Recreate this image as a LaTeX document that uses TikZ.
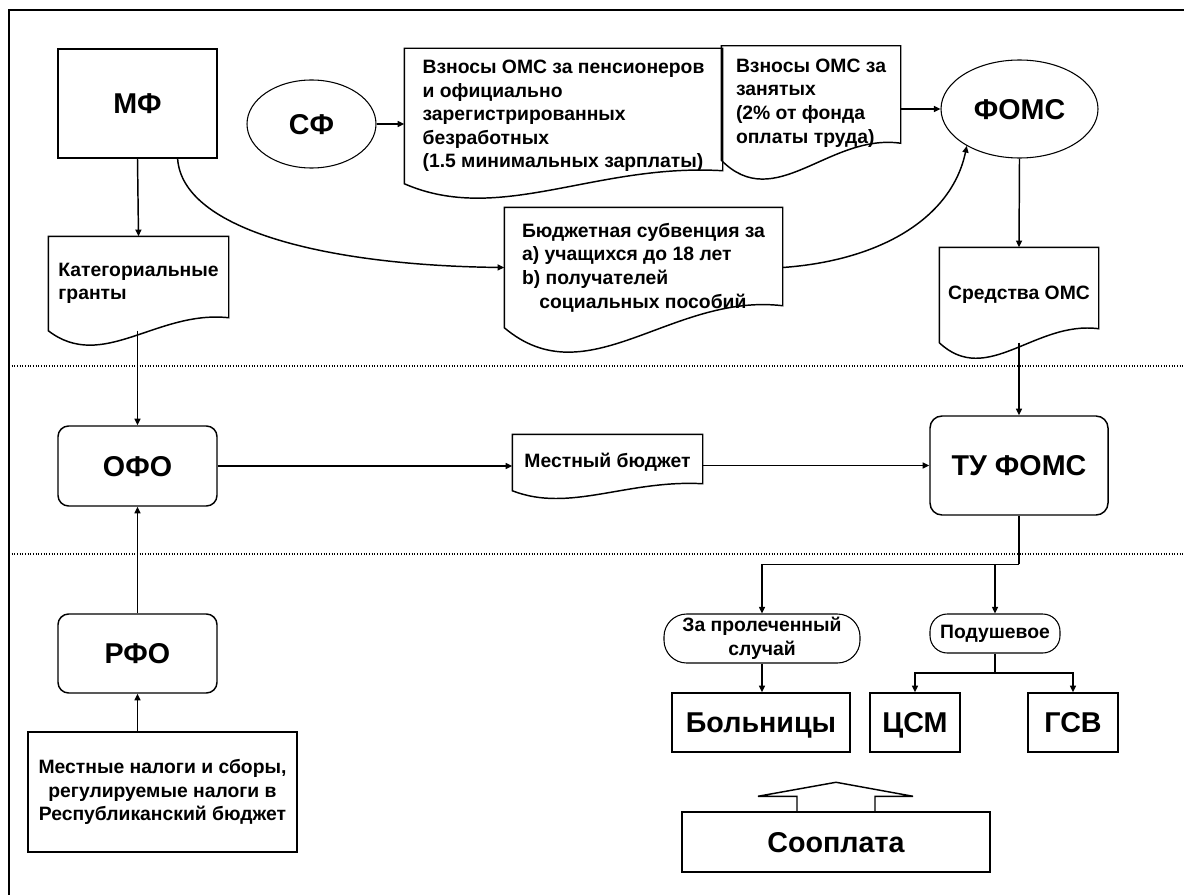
\documentclass[tikz,border=0pt]{standalone}
\usepackage{fontspec}
\setmainfont{Liberation Sans}
\usepackage{tikz}
\usetikzlibrary{calc,arrows.meta,shapes.geometric}

% document shape: box with a wavy lower edge, #2 = rise of the right corner
\newcommand{\docoutline}[2]{%
  \draw (#1.north west) -- (#1.north east) -- ($(#1.south east)+(0,-#2)$)
    .. controls ($(#1.south west)!0.6!(#1.south east)+(0,-1.6*#2)$)
    and ($(#1.south west)!0.3!(#1.south east)+(0,3.2*#2)$) .. (#1.south west) -- cycle;}

\begin{document}
\begin{tikzpicture}[x=0.75pt,y=-0.75pt,line width=1.1pt,
    lbl/.style={font=\fontsize{21.5}{26}\selectfont\bfseries, text height=15.4pt, text depth=0pt},
    txt/.style={font=\fontsize{14.5}{17.7}\selectfont\bfseries, align=left},
    box/.style={draw, rectangle, inner sep=0pt, lbl},
    oval/.style={draw, ellipse, inner sep=0pt, line width=0.8pt, lbl},
    rbox/.style={draw, rectangle, rounded corners=8pt, inner sep=0pt, lbl},
    doc/.style={rectangle, inner sep=0pt, txt},
    pill/.style={draw, rectangle, inner sep=0pt, txt, align=center, line width=0.8pt},
    arr/.style={-{Triangle[length=5pt,width=4.5pt]}},
    sep/.style={line width=0.8pt, dash pattern=on 0.8pt off 1.2pt}]
      \useasboundingbox (0,0) rectangle (1184,895);
      \draw (9,895) -- (9,10) -- (1184,10);
      \draw[sep] (9,366) -- (1184,366);
      \draw[sep] (9,554) -- (1184,554);

      % top level
      \node (mf) at (137.5,103.5) [box, minimum width=119.25pt, minimum height=81.75pt] {МФ};
      \node (sf) at (311.5,124) [oval, minimum width=96.75pt, minimum height=66pt] {СФ};
      \node (fomc) at (1019.5,109) [oval, minimum width=117.75pt, minimum height=73.5pt] {ФОМС};
      \node (vz1) at (563.5,116) [doc, minimum width=237.75pt, minimum height=100.5pt]
        {Взносы ОМС за пенсионеров\\и официально\\зарегистрированных\\безработных\\(1.5 минимальных зарплаты)};
      \node (vz2) at (811,103) [doc, minimum width=133.5pt, minimum height=84.75pt]
        {Взносы ОМС за\\занятых\\(2\% от фонда\\оплаты труда)};
      \node (kat) at (138.5,283.5) [doc, minimum width=134.25pt, minimum height=69.75pt]
        {Категориальные\\гранты};
      \node (subv) at (643.5,267.5) [doc, minimum width=207.75pt, minimum height=89.25pt]
        {Бюджетная субвенция за\\a) учащихся до 18 лет\\b) получателей\\\hspace*{0.9em}социальных пособий};
      \node (sred) at (1019,295) [doc, minimum width=118.5pt, minimum height=70.5pt] {Средства ОМС};
      \docoutline{vz2}{17}
      \docoutline{vz1}{13}
      \docoutline{kat}{13}
      \docoutline{subv}{22}
      \docoutline{sred}{14}

      % middle level
      \node (ofo) at (137.5,466) [rbox, minimum width=119.25pt, minimum height=60pt] {ОФО};
      \node (mestb) at (607.5,462.5) [doc, minimum width=141.75pt, minimum height=41.25pt] {Местный бюджет};
      \node (tu) at (1019,465.5) [rbox, rounded corners=9pt, minimum width=133.5pt, minimum height=74.25pt] {ТУ ФОМС};
      \docoutline{mestb}{7}

      % lower level
      \node (rfo) at (137.5,653.5) [rbox, minimum width=119.25pt, minimum height=59.25pt] {РФО};
      \node (mn) at (162.5,792) [draw, rectangle, inner sep=0pt, txt, align=center, minimum width=201.75pt, minimum height=90pt]
        {Местные налоги и сборы,\\регулируемые налоги в\\Республиканский бюджет};
      \node (zap) at (762,638.5) [pill, rounded corners=17pt, minimum width=147pt, minimum height=36.75pt]
        {За пролеченный\\случай};
      \node (pod) at (995,633.5) [pill, rounded corners=13pt, minimum width=97.5pt, minimum height=29.25pt] {Подушевое};
      \node (bol) at (761,722.5) [box, minimum width=133.5pt, minimum height=44.25pt] {Больницы};
      \node (csm) at (915,722.5) [box, minimum width=67.5pt, minimum height=44.25pt] {ЦСМ};
      \node (gsv) at (1073,722.5) [box, minimum width=67.5pt, minimum height=44.25pt] {ГСВ};
      \node (soo) at (836,842) [box, minimum width=231pt, minimum height=45pt] {Сооплата};
      \draw (soo.north) ++(-39,0) -- ++(0,-15) -- ++(-39,0) -- ++(78,-14)
        -- ++(77,14) -- ++(-38,0) -- ++(0,15);

      % flows
      \draw[arr] (sf.east) -- (sf.east -| vz1.west);
      \draw[arr] (vz2.east |- fomc.west) -- (fomc.west);
      \draw[arr] (mf.south) -- (kat.north);
      \draw[arr] ($(mf.south)!0.5!(mf.south east)$) .. controls +(5,72) and +(-175,-2) .. (subv.west);
      \draw[arr] (subv.east) .. controls +(98,-7) and +(-15,72) .. (fomc.215);
      \draw[arr] (fomc.south) -- (sred.north);
      \draw[arr] (kat.south -| ofo.north) -- (ofo.north);
      \draw[arr] (sred.south) -- (tu.north);
      \draw[arr] (rfo.north) -- (ofo.south);
      \draw[arr] (mn.north -| rfo.south) -- (rfo.south);
      \draw[arr] (ofo.east) -- (ofo.east -| mestb.west);
      \draw[arr] (tu.west -| mestb.east) -- (tu.west);
      \coordinate (split1) at ($(tu.south)+(0,48.5)$);
      \draw (tu.south) -- (split1);
      \draw[arr] (split1) -| (zap.north);
      \draw[arr] (split1 -| pod.north) -- (pod.north);
      \draw[arr] (zap.south) -- (zap.south |- bol.north);
      \coordinate (split2) at ($(pod.south)+(0,19.5)$);
      \draw (pod.south) -- (split2);
      \draw[arr] (split2) -| (csm.north);
      \draw[arr] (split2) -| (gsv.north);
\end{tikzpicture}
\end{document}
